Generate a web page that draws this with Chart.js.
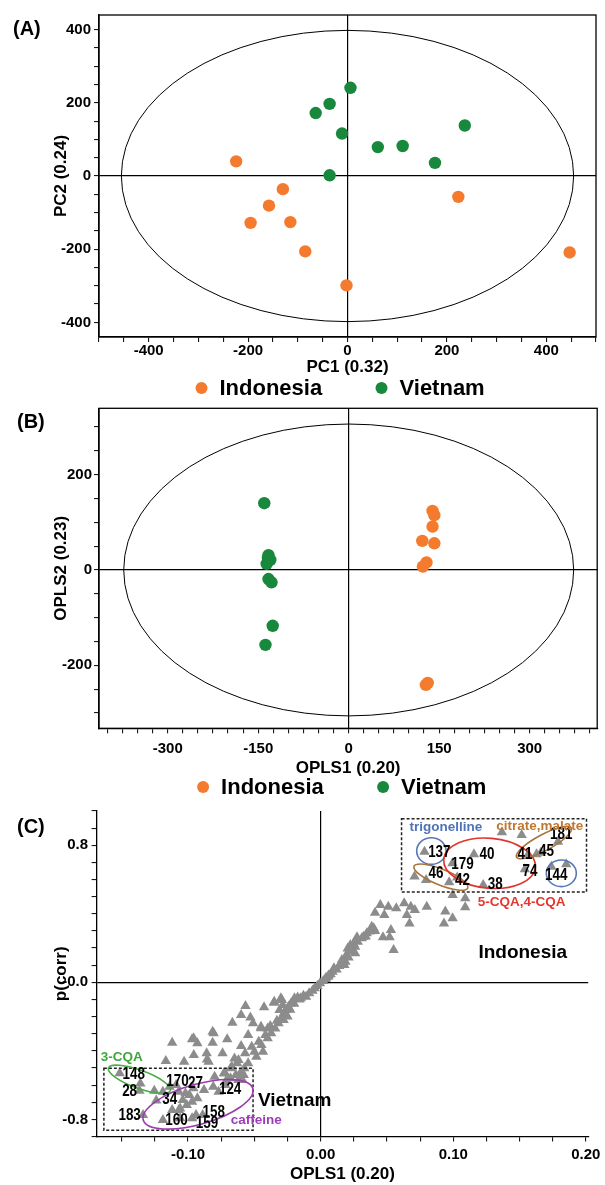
<!DOCTYPE html>
<html><head><meta charset="utf-8">
<script src="https://cdn.jsdelivr.net/npm/chart.js@4.4.0/dist/chart.umd.min.js"></script>
<style>
html,body{margin:0;padding:0;background:#fff;width:605px;height:1185px;overflow:hidden;}
canvas{position:absolute;left:0;}
</style></head><body>
<canvas id="cA" width="605" height="400" style="top:0px"></canvas>
<canvas id="cB" width="605" height="410" style="top:395px"></canvas>
<canvas id="cC" width="605" height="395" style="top:790px"></canvas>
<script>
// ---------- data ----------
const groupNames = ['Indonesia', 'Vietnam'];

const pcaIndonesia = [[-224,40],[-130,-36],[-158,-81],[-195,-128],[-115,-126],[-85,-206],[-2,-299],[223,-57],[447,-209]];
const pcaVietnam   = [[6,241],[-36,197],[-64,172],[-11,116],[61,79],[111,82],[236,138],[176,36],[-36,2]];

const oplsIndonesia = [[139,124],[142,115],[139,91],[122,61],[142,56],[129,16],[123,7],[131,-237],[128,-241]];
const oplsVietnam   = [[-140,140],[-133,31],[-130,21],[-136,13],[-134,25],[-133,-19],[-128,-26],[-126,-117],[-138,-157]];

const sPlotPoints = [
[0.0783,0.762],[0.1156,0.747],[0.0994,0.695],[0.0708,0.617],[0.0795,0.597],[0.0969,0.584],[0.103,0.612],[0.1226,0.568],
[0.1367,0.876],[0.1516,0.860],[0.179,0.821],[0.1566,0.747],[0.1628,0.747],[0.166,0.757],[0.154,0.660],[0.174,0.675],[0.1852,0.689],
[0.0995,0.510],[0.109,0.490],[0.109,0.438],[0.094,0.414],[0.0995,0.374],[0.093,0.344],
[0.080,0.441],[0.071,0.422],[0.068,0.441],[0.063,0.461],[0.057,0.432],[0.051,0.441],[0.065,0.393],[0.067,0.344],
[0.045,0.451],[0.041,0.406],[0.048,0.393],[0.053,0.305],[0.047,0.263],[0.052,0.263],[0.055,0.189],
[0.040,0.315],[0.0385,0.325],[0.041,0.300],[0.0348,0.286],[0.0323,0.266],[0.0274,0.263],[0.0261,0.243],
[0.0249,0.224],[0.0224,0.218],[0.0204,0.198],[0.0236,0.189],[0.0194,0.159],[0.0187,0.120],[0.0179,0.101],
[0.028,0.237],[0.031,0.257],[0.034,0.267],[0.037,0.296],[0.026,0.208],[0.023,0.180],[0.026,0.169],[0.021,0.145],
[0.016,0.130],[0.014,0.095],[0.012,0.075],
[0.010,0.082],[0.009,0.062],[0.0075,0.047],[0.0055,0.033],[0.0037,0.019],[0.002,0.008],[0.006,0.040],[0.004,0.026],
[-0.0005,-0.006],[-0.0025,-0.022],[-0.0045,-0.035],[-0.0062,-0.049],[-0.0087,-0.064],[-0.011,-0.084],[-0.0174,-0.088],
[-0.030,-0.093],[-0.013,-0.078],[-0.016,-0.100],[-0.0198,-0.093],[-0.0224,-0.123],[-0.0243,-0.142],[-0.026,-0.162],
[-0.0278,-0.181],[-0.0298,-0.210],[-0.0318,-0.239],[-0.0343,-0.269],[-0.0373,-0.298],[-0.040,-0.327],[-0.0417,-0.308],
[-0.0435,-0.405],[-0.0447,-0.366],[-0.0467,-0.347],[-0.0485,-0.434],[-0.050,-0.405],[-0.052,-0.376],[-0.0547,-0.473],
[-0.0576,-0.502],[-0.0608,-0.531],[-0.031,-0.162],[-0.0286,-0.133],[-0.0293,-0.103],[-0.0353,-0.119],[-0.0427,-0.146],
[-0.0567,-0.138],[-0.060,-0.191],[-0.053,-0.205],[-0.0666,-0.236],[-0.0815,-0.288],[-0.097,-0.333],[-0.093,-0.356],
[-0.112,-0.353],[-0.0815,-0.353],[-0.0705,-0.333],[-0.060,-0.372],[-0.0547,-0.308],[-0.045,-0.259],[-0.040,-0.269],
[-0.1168,-0.459],[-0.103,-0.463],[-0.0857,-0.450],[-0.065,-0.444],[-0.035,-0.113],[-0.028,-0.220],[-0.025,-0.200],
[-0.015,-0.093],[-0.020,-0.125],[-0.045,-0.268],[-0.051,-0.239],[-0.023,-0.160],[-0.033,-0.225],[-0.038,-0.255],
[-0.0957,-0.424],[-0.0807,-0.298],[-0.0845,-0.463],[-0.072,-0.531],[-0.067,-0.493],[-0.062,-0.454],[-0.057,-0.414],
[-0.0958,-0.327],[-0.074,-0.414],[-0.086,-0.414],[-0.068,-0.502],[-0.063,-0.473],[-0.073,-0.531],[-0.080,-0.551],
[-0.071,-0.570],[-0.064,-0.541],[-0.059,-0.570],
[-0.1516,-0.531],[-0.136,-0.590],[-0.1367,-0.633],[-0.1255,-0.633],[-0.119,-0.639],[-0.114,-0.609],[-0.109,-0.600],
[-0.107,-0.639],[-0.102,-0.648],[-0.104,-0.687],[-0.099,-0.658],[-0.096,-0.619],[-0.088,-0.629],[-0.093,-0.677],
[-0.097,-0.697],[-0.106,-0.736],[-0.101,-0.716],[-0.112,-0.746],[-0.107,-0.746],[-0.081,-0.609],[-0.077,-0.639],
[-0.072,-0.600],[-0.068,-0.560],[-0.062,-0.570],[-0.058,-0.541],[-0.134,-0.775],[-0.119,-0.804],[-0.106,-0.794],
[-0.097,-0.794],[-0.094,-0.775],[-0.089,-0.775],[-0.124,-0.690]
];

// tick labels
const pcaXLabels = [-400,-200,0,200,400];
const pcaYLabels = [-400,-200,0,200,400];
const oplsXLabels = [-300,-150,0,150,300];
const oplsYLabels = [-200,0,200];
const sPlotXLabels = [-0.10,0.00,0.10,0.20];
const sPlotYLabels = [-0.8,0.0,0.8];

// variable labels in the S-plot (OPLS1 loading, p(corr))
const varIds = ['137','40','179','46','42','38','41','45','181','74','144','148','170','27','124','28','34','183','160','158','159'];
const varX = [0.0895,0.1255,0.1069,0.087,0.1069,0.1317,0.1541,0.1703,0.1815,0.1578,0.1777,-0.141,-0.108,-0.0944,-0.0683,-0.1441,-0.1138,-0.1441,-0.1088,-0.0807,-0.0857];
const varY = [0.759,0.747,0.689,0.632,0.591,0.572,0.743,0.762,0.864,0.646,0.622,-0.541,-0.580,-0.590,-0.629,-0.639,-0.683,-0.780,-0.810,-0.761,-0.823];

// ---------- styling ----------
const FONT = '"Liberation Sans", Arial, Helvetica, sans-serif';
const ORANGE = '#F47B2E';
const GREEN = '#17883C';
const GRAY = '#8C8C8C';
Chart.defaults.font.family = FONT;
Chart.defaults.color = '#000';
Chart.defaults.animation = false;

const toXY = arr => arr.map(p => ({x: p[0], y: p[1]}));

function axis(o) {
  return {
    type: 'linear', position: o.pos, min: o.min, max: o.max, bounds: 'ticks',
    border: {display: true, color: '#000', width: 1.3},
    grid: {
      drawOnChartArea: true, drawTicks: true, tickLength: 5, tickWidth: 1, tickColor: '#000', lineWidth: 1.2,
      color: c => (c.tick && Math.abs(c.tick.value) < 1e-9) ? '#000' : 'rgba(0,0,0,0)'
    },
    ticks: {
      stepSize: o.step, autoSkip: false, maxRotation: 0, minRotation: 0, includeBounds: false,
      padding: o.tpad, font: {size: 15, weight: 'bold'}, color: '#000',
      callback: v => o.labels.some(l => Math.abs(l - v) < 1e-9) ? o.fmt(v) : ''
    },
    title: {display: true, text: o.title, font: {size: 17, weight: 'bold'}, color: '#000', padding: o.titlePad},
    afterFit: s => { if (o.pos === 'left') s.width = o.size; else s.height = o.size; }
  };
}

// ---------- plugins ----------
const frameBox = {
  id: 'frameBox',
  afterDraw(chart, args, o) {
    if (!o.show) return;
    const {ctx, chartArea: a} = chart;
    ctx.save(); ctx.strokeStyle = '#000'; ctx.lineWidth = 1.3;
    ctx.strokeRect(a.left, a.top, a.right - a.left, a.bottom - a.top);
    ctx.restore();
  }
};
const confEllipse = {
  id: 'confEllipse',
  beforeDatasetsDraw(chart, args, o) {
    if (!o.rx) return;
    const {ctx} = chart, xs = chart.scales.x, ys = chart.scales.y;
    const cx = xs.getPixelForValue(0), cy = ys.getPixelForValue(0);
    const rx = Math.abs(xs.getPixelForValue(o.rx) - cx), ry = Math.abs(ys.getPixelForValue(o.ry) - cy);
    ctx.save(); ctx.strokeStyle = '#000'; ctx.lineWidth = 1;
    ctx.beginPath(); ctx.ellipse(cx, cy, rx, ry, 0, 0, Math.PI * 2); ctx.stroke();
    ctx.restore();
  }
};
const dotLegend = {
  id: 'dotLegend',
  afterDraw(chart, args, o) {
    if (!o.show) return;
    const {ctx, chartArea: a} = chart;
    const cx = (a.left + a.right) / 2;
    ctx.save();
    ctx.font = 'bold 22px ' + FONT;
    ctx.textBaseline = 'middle'; ctx.textAlign = 'left';
    chart.data.datasets.forEach((ds, i) => {
      const x = cx + o.xs[i];
      ctx.fillStyle = ds.backgroundColor;
      ctx.beginPath(); ctx.arc(x, o.y, 6, 0, Math.PI * 2); ctx.fill();
      ctx.fillStyle = '#000';
      ctx.fillText(ds.label, x + 18, o.y + 1);
    });
    ctx.restore();
  }
};
const panelTag = {
  id: 'panelTag',
  afterDraw(chart, args, o) {
    const {ctx} = chart;
    ctx.save(); ctx.font = 'bold 20px ' + FONT; ctx.fillStyle = '#000';
    ctx.textBaseline = 'middle'; ctx.textAlign = 'left';
    ctx.fillText(o.text, o.x, o.y);
    ctx.restore();
  }
};
const sPlotAnnot = {
  id: 'sPlotAnnot',
  afterDatasetsDraw(chart, args, o) {
    if (!o.boxes) return;
    const {ctx} = chart, xs = chart.scales.x, ys = chart.scales.y;
    const px = v => xs.getPixelForValue(v), py = v => ys.getPixelForValue(v);
    ctx.save();
    ctx.setLineDash([3, 2]); ctx.lineWidth = 1.5; ctx.strokeStyle = '#222';
    o.boxes.forEach(b => {
      ctx.strokeRect(px(b.x[0]), py(b.y[1]), px(b.x[1]) - px(b.x[0]), py(b.y[0]) - py(b.y[1]));
    });
    ctx.setLineDash([]);
    o.ellipses.forEach(e => {
      ctx.strokeStyle = e.color; ctx.lineWidth = 1.6;
      ctx.beginPath(); ctx.ellipse(px(e.c[0]), py(e.c[1]), e.a, e.b, e.rot * Math.PI / 180, 0, Math.PI * 2); ctx.stroke();
    });
    ctx.textAlign = 'center'; ctx.textBaseline = 'middle';
    // numbers: condensed bold
    ctx.font = 'bold 16px ' + FONT; ctx.fillStyle = '#000';
    varIds.forEach((t, i) => {
      ctx.save(); ctx.translate(px(varX[i]), py(varY[i])); ctx.scale(0.84, 1);
      ctx.fillText(t, 0, 0); ctx.restore();
    });
    ctx.font = 'bold 13.5px ' + FONT;
    o.names.forEach(n => { ctx.fillStyle = n.color; ctx.fillText(n.t, px(n.at[0]), py(n.at[1])); });
    ctx.font = 'bold 19px ' + FONT; ctx.fillStyle = '#000';
    o.regions.forEach(r => ctx.fillText(r.t, px(r.at[0]), py(r.at[1])));
    ctx.restore();
  }
};

function groupDatasets(a, b) {
  return [
    {label: groupNames[0], data: toXY(a), backgroundColor: ORANGE, borderWidth: 0, pointRadius: 6.2, pointHoverRadius: 6.2},
    {label: groupNames[1], data: toXY(b), backgroundColor: GREEN, borderWidth: 0, pointRadius: 6.2, pointHoverRadius: 6.2}
  ];
}
const basePlugins = {legend: {display: false}, tooltip: {enabled: false}};
const plugs = [frameBox, confEllipse, dotLegend, panelTag, sPlotAnnot];

// ---------- Panel A ----------
new Chart(document.getElementById('cA'), {
  type: 'scatter',
  data: {datasets: groupDatasets(pcaIndonesia, pcaVietnam)},
  plugins: plugs,
  options: {
    responsive: false, devicePixelRatio: 1, animation: false,
    layout: {padding: {top: 15, right: 9, left: 0, bottom: 0}, autoPadding: false},
    scales: {
      x: axis({pos: 'bottom', min: -500, max: 500, step: 50, labels: pcaXLabels, fmt: v => String(Math.round(v)), title: 'PC1 (0.32)', tpad: 0, titlePad: {top: 0, bottom: 22}, size: 63}),
      y: axis({pos: 'left', min: -440, max: 440, step: 50, labels: pcaYLabels, fmt: v => String(Math.round(v)), title: 'PC2 (0.24)', tpad: 3, titlePad: {top: 51, bottom: 0}, size: 99})
    },
    plugins: Object.assign({}, basePlugins, {
      frameBox: {show: true}, confEllipse: {rx: 455, ry: 398},
      dotLegend: {show: true, xs: [-146, 34], y: 388},
      panelTag: {text: '(A)', x: 13, y: 29}, sPlotAnnot: {}
    })
  }
});

// ---------- Panel B ----------
new Chart(document.getElementById('cB'), {
  type: 'scatter',
  data: {datasets: groupDatasets(oplsIndonesia, oplsVietnam)},
  plugins: plugs,
  options: {
    responsive: false, devicePixelRatio: 1, animation: false,
    layout: {padding: {top: 13.3, right: 7.8, left: 0, bottom: 0}, autoPadding: false},
    scales: {
      x: axis({pos: 'bottom', min: -414, max: 412, step: 25, labels: oplsXLabels, fmt: v => String(Math.round(v)), title: 'OPLS1 (0.20)', tpad: 7, titlePad: {top: 0, bottom: 26}, size: 76.7}),
      y: axis({pos: 'left', min: -332, max: 339, step: 50, labels: oplsYLabels, fmt: v => String(Math.round(v)), title: 'OPLS2 (0.23)', tpad: 2, titlePad: {top: 51, bottom: 0}, size: 99})
    },
    plugins: Object.assign({}, basePlugins, {
      frameBox: {show: true}, confEllipse: {rx: 373, ry: 306},
      dotLegend: {show: true, xs: [-145, 35], y: 392},
      panelTag: {text: '(B)', x: 17, y: 27}, sPlotAnnot: {}
    })
  }
});

// ---------- Panel C ----------
new Chart(document.getElementById('cC'), {
  type: 'scatter',
  data: {datasets: [{label: 'variables', data: toXY(sPlotPoints), backgroundColor: GRAY, borderWidth: 0,
    pointStyle: 'triangle', pointRadius: 6, pointHoverRadius: 6}]},
  plugins: plugs,
  options: {
    responsive: false, devicePixelRatio: 1, animation: false,
    layout: {padding: {top: 21, right: 11, left: 0, bottom: 0}, autoPadding: false},
    scales: {
      x: axis({pos: 'bottom', min: -0.169, max: 0.2018, step: 0.025, labels: sPlotXLabels, fmt: v => v.toFixed(2), title: 'OPLS1 (0.20)', tpad: 4.5, titlePad: {top: 0, bottom: 0}, size: 48.5}),
      y: axis({pos: 'left', min: -0.9, max: 1.0, step: 0.1, labels: sPlotYLabels, fmt: v => v.toFixed(1), title: 'p(corr)', tpad: 3.5, titlePad: {top: 51, bottom: 0}, size: 96.6})
    },
    plugins: Object.assign({}, basePlugins, {
      frameBox: {show: false}, confEllipse: {}, dotLegend: {show: false},
      panelTag: {text: '(C)', x: 17, y: 37},
      sPlotAnnot: {
        boxes: [{x: [0.061, 0.2005], y: [0.527, 0.955]}, {x: [-0.1635, -0.051], y: [-0.864, -0.502]}],
        ellipses: [
          {c: [0.0835, 0.766], a: 14.7, b: 13.3, rot: 0, color: '#5677BA'},
          {c: [0.0907, 0.614], a: 29, b: 8, rot: 22, color: '#A8743C'},
          {c: [0.1274, 0.695], a: 46, b: 25, rot: 5, color: '#E3342C'},
          {c: [0.1684, 0.816], a: 31, b: 8, rot: -28, color: '#A8743C'},
          {c: [0.1815, 0.636], a: 15, b: 13.3, rot: 0, color: '#5677BA'},
          {c: [-0.1367, -0.566], a: 33, b: 9, rot: 20, color: '#4DAA45'},
          {c: [-0.0925, -0.712], a: 57, b: 20, rot: -16, color: '#9B3DB0'}
        ],
        names: [
          {t: 'trigonelline', at: [0.0945, 0.903], color: '#4F72B8'},
          {t: 'citrate,malate', at: [0.1653, 0.908], color: '#C0772E'},
          {t: '5-CQA,4-CQA', at: [0.1516, 0.470], color: '#E8352C'},
          {t: '3-CQA', at: [-0.150, -0.440], color: '#3EA53A'},
          {t: 'caffeine', at: [-0.0485, -0.804], color: '#9D3DB6'}
        ],
        regions: [
          {t: 'Indonesia', at: [0.1524, 0.175]},
          {t: 'Vietnam', at: [-0.0196, -0.691]}
        ]
      }
    })
  }
});
</script>
</body></html>
